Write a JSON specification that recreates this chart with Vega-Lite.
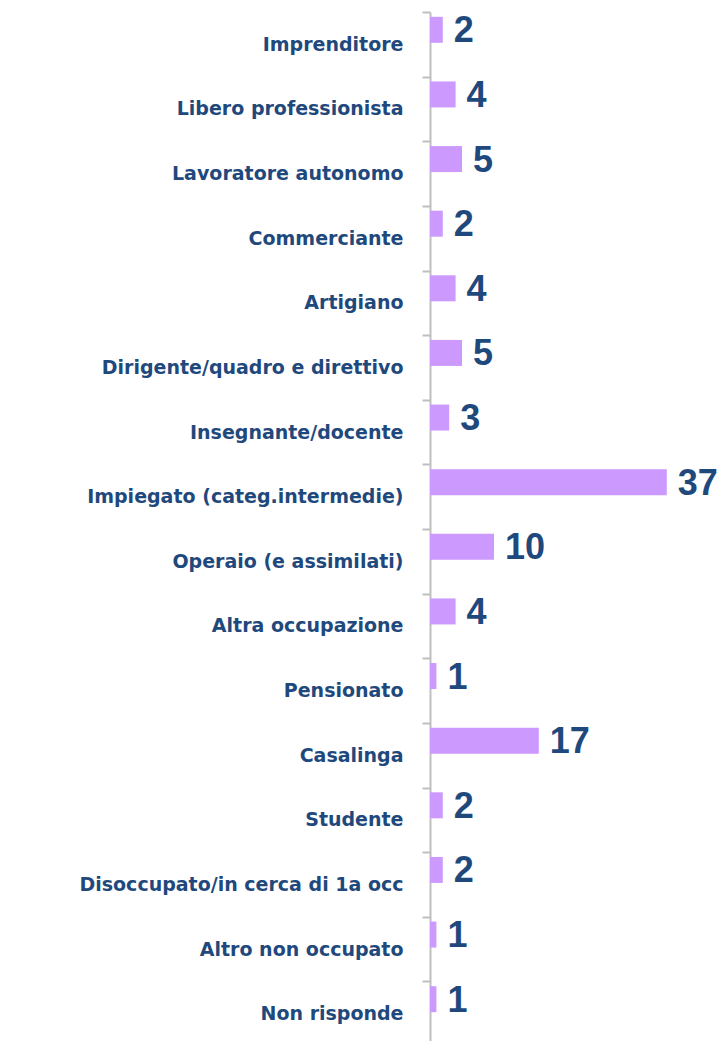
{
  "$schema": "https://vega.github.io/schema/vega-lite/v6.json",
  "width": 288,
  "height": 1034,
  "autosize": {"type": "none"},
  "padding": {"left": 430, "top": 12, "right": 2, "bottom": 0},
  "background": "white",
  "config": {"view": {"stroke": null}},
  "data": {
    "values": [
      {"category": "Imprenditore", "value": 2},
      {"category": "Libero professionista", "value": 4},
      {"category": "Lavoratore autonomo", "value": 5},
      {"category": "Commerciante", "value": 2},
      {"category": "Artigiano", "value": 4},
      {"category": "Dirigente/quadro e direttivo", "value": 5},
      {"category": "Insegnante/docente", "value": 3},
      {"category": "Impiegato (categ.intermedie)", "value": 37},
      {"category": "Operaio (e assimilati)", "value": 10},
      {"category": "Altra occupazione", "value": 4},
      {"category": "Pensionato", "value": 1},
      {"category": "Casalinga", "value": 17},
      {"category": "Studente", "value": 2},
      {"category": "Disoccupato/in cerca di 1a occ", "value": 2},
      {"category": "Altro non occupato", "value": 1},
      {"category": "Non risponde", "value": 1}
    ]
  },
  "encoding": {
    "y": {
      "field": "category",
      "type": "nominal",
      "sort": null,
      "scale": {"paddingInner": 0, "paddingOuter": 0},
      "axis": {
        "title": null,
        "tickBand": "extent",
        "tickSize": 8,
        "tickWidth": 2,
        "tickColor": "#BFBFBF",
        "domainColor": "#BFBFBF",
        "domainWidth": 2,
        "labelPadding": 19,
        "labelFont": "DejaVu Sans",
        "labelFontWeight": "bold",
        "labelFontSize": 19,
        "labelColor": "#1F497D",
        "labelLimit": 500
      }
    },
    "x": {
      "field": "value",
      "type": "quantitative",
      "scale": {"domain": [0, 45]},
      "axis": null
    }
  },
  "layer": [
    {
      "mark": {"type": "bar", "color": "#CC99FF", "height": 26, "yOffset": -14.5}
    },
    {
      "mark": {
        "type": "text",
        "align": "left",
        "baseline": "middle",
        "dx": 11,
        "yOffset": -13,
        "font": "Liberation Sans",
        "fontWeight": "bold",
        "fontSize": 36,
        "color": "#1F497D"
      },
      "encoding": {"text": {"field": "value", "type": "quantitative"}}
    }
  ]
}
